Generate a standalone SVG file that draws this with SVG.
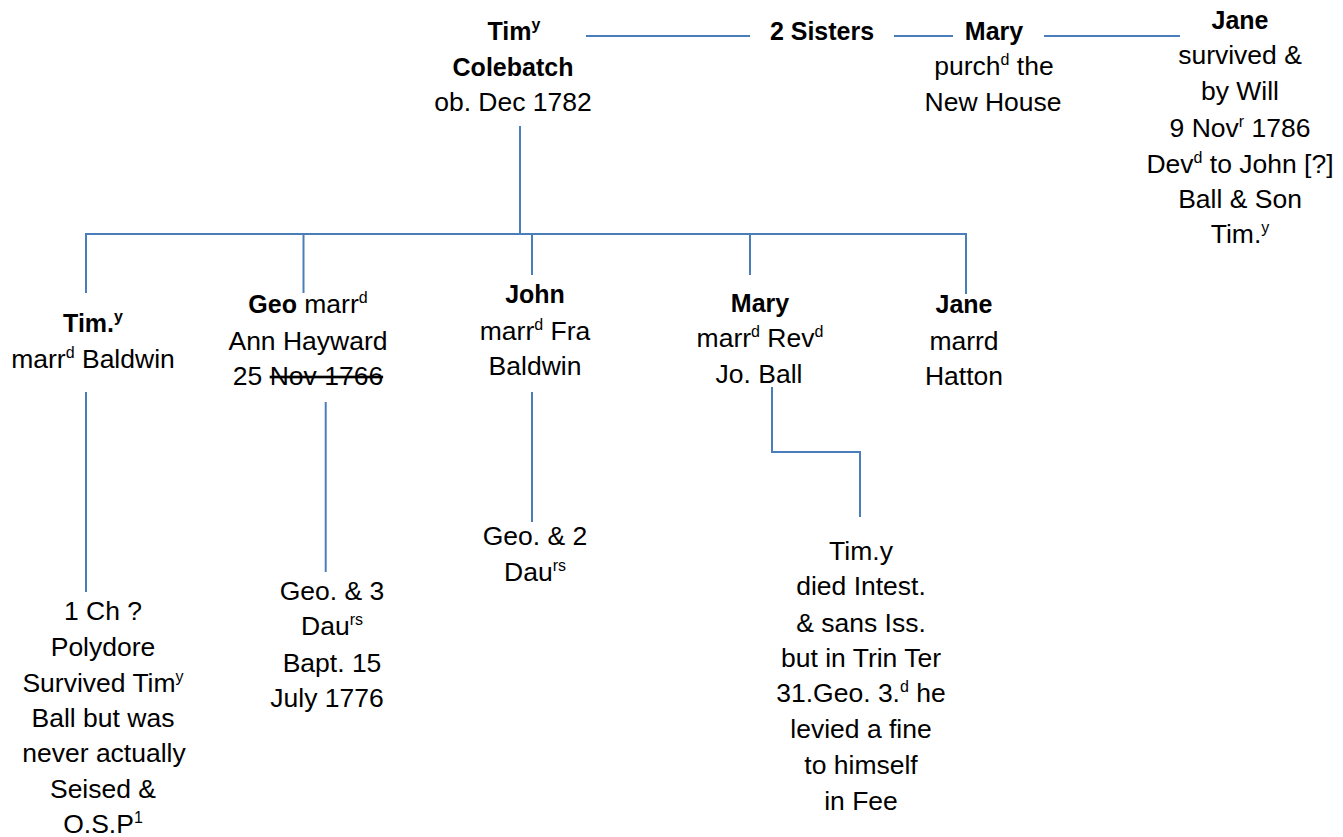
<svg xmlns="http://www.w3.org/2000/svg" width="1343" height="837" viewBox="0 0 1343 837">
<style>
text{font-family:"Liberation Sans",Arial,sans-serif;font-size:26.5px;fill:#000;text-anchor:middle}
.b{font-weight:bold;font-size:25px}
.sup{font-size:16px;font-weight:normal}
.bs{font-size:16px}
.st{text-decoration:line-through}
#connectors path{fill:none;stroke:#4A7EBB;stroke-width:2}
</style>
<rect width="1343" height="837" fill="#fff"/>
<g id="connectors">
<path d="M586 36H750"/>
<path d="M894 36H953"/>
<path d="M1044 36H1180"/>
<path d="M520 126V234"/>
<path d="M85 234H967"/>
<path d="M86 234V293"/>
<path d="M303.5 234V293"/>
<path d="M532 234V275"/>
<path d="M750 234V275"/>
<path d="M966 234V294"/>
<path d="M86 392V592"/>
<path d="M325.7 402V572"/>
<path d="M532 392V522"/>
<path d="M772 387V452H860V517"/>
</g>
<g id="tim-colebatch">
<text x="514" y="40" class="b">Tim<tspan class="bs" baseline-shift="10">y</tspan></text>
<text x="513" y="76" class="b">Colebatch</text>
<text x="513" y="111">ob. Dec 1782</text>
</g>
<g id="two-sisters">
<text x="822" y="40" class="b">2 Sisters</text>
</g>
<g id="mary-sister">
<text x="994" y="40" class="b">Mary</text>
<text x="994" y="75">purch<tspan class="sup" baseline-shift="10">d</tspan> the</text>
<text x="993" y="111">New House</text>
</g>
<g id="jane-sister">
<text x="1240" y="29" class="b">Jane</text>
<text x="1240" y="64">survived &amp;</text>
<text x="1240" y="100">by Will</text>
<text x="1240" y="137">9 Nov<tspan class="sup" baseline-shift="10">r</tspan> 1786</text>
<text x="1240" y="173">Dev<tspan class="sup" baseline-shift="10">d</tspan> to John [?]</text>
<text x="1240" y="208">Ball &amp; Son</text>
<text x="1240" y="243">Tim.<tspan class="sup" baseline-shift="10">y</tspan></text>
</g>
<g id="tim-son">
<text x="93" y="332" class="b">Tim.<tspan class="bs" baseline-shift="10">y</tspan></text>
<text x="93" y="368">marr<tspan class="sup" baseline-shift="10">d</tspan> Baldwin</text>
</g>
<g id="geo">
<text x="308" y="313"><tspan class="b">Geo</tspan> marr<tspan class="sup" baseline-shift="10">d</tspan></text>
<text x="308" y="350">Ann Hayward</text>
<text x="308" y="385">25 <tspan class="st">Nov 1766</tspan></text>
</g>
<g id="john">
<text x="535" y="303" class="b">John</text>
<text x="535" y="340">marr<tspan class="sup" baseline-shift="10">d</tspan> Fra</text>
<text x="535" y="375">Baldwin</text>
</g>
<g id="mary">
<text x="760" y="312" class="b">Mary</text>
<text x="760" y="347">marr<tspan class="sup" baseline-shift="10">d</tspan> Rev<tspan class="sup" baseline-shift="10">d</tspan></text>
<text x="759" y="383">Jo. Ball</text>
</g>
<g id="jane">
<text x="964" y="313" class="b">Jane</text>
<text x="964" y="350">marrd</text>
<text x="964" y="385">Hatton</text>
</g>
<g id="tim-child">
<text x="103" y="620">1 Ch ?</text>
<text x="103" y="656">Polydore</text>
<text x="103" y="692">Survived Tim<tspan class="sup" baseline-shift="10">y</tspan></text>
<text x="103" y="727">Ball but was</text>
<text x="104" y="762">never actually</text>
<text x="103" y="798">Seised &amp;</text>
<text x="103" y="833">O.S.P<tspan class="sup" baseline-shift="10">1</tspan></text>
</g>
<g id="geo-children">
<text x="332" y="600">Geo. &amp; 3</text>
<text x="332" y="635">Dau<tspan class="sup" baseline-shift="10">rs</tspan></text>
<text x="332" y="672">Bapt. 15</text>
<text x="327" y="707">July 1776</text>
</g>
<g id="john-children">
<text x="535" y="545">Geo. &amp; 2</text>
<text x="535" y="581">Dau<tspan class="sup" baseline-shift="10">rs</tspan></text>
</g>
<g id="mary-child">
<text x="861" y="560">Tim.y</text>
<text x="861" y="595">died Intest.</text>
<text x="861" y="632">&amp; sans Iss.</text>
<text x="861" y="667">but in Trin Ter</text>
<text x="861" y="702">31.Geo. 3.<tspan class="sup" baseline-shift="10">d</tspan> he</text>
<text x="861" y="738">levied a fine</text>
<text x="861" y="774">to himself</text>
<text x="861" y="810">in Fee</text>
</g>
</svg>
